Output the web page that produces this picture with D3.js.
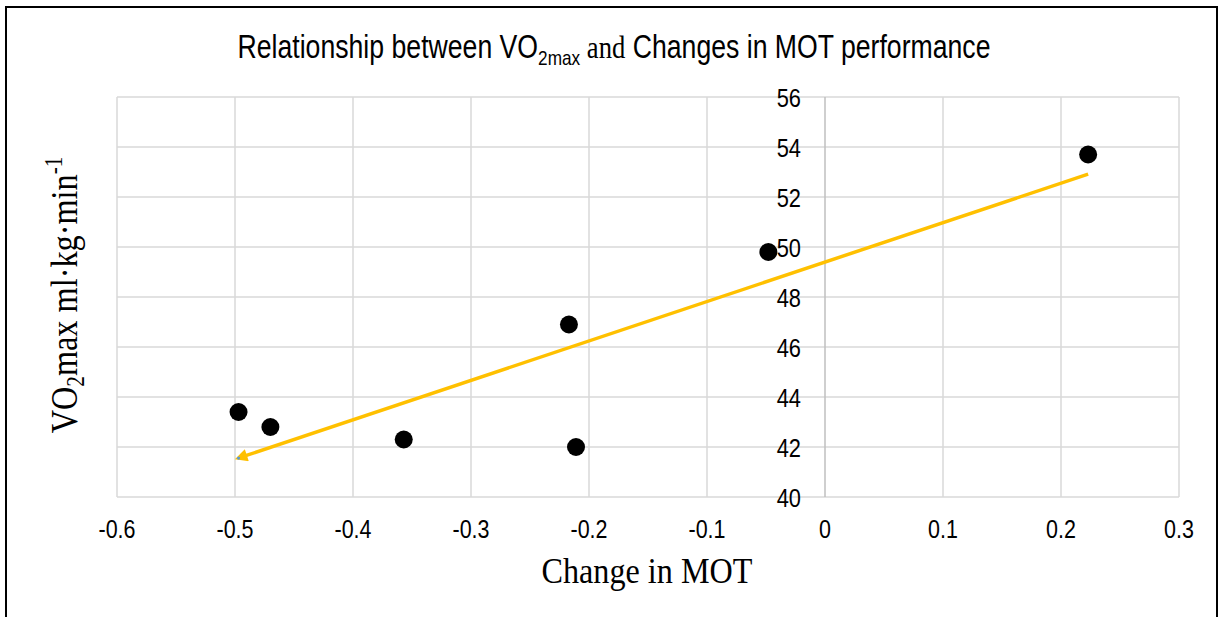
<!DOCTYPE html>
<html>
<head>
<meta charset="utf-8">
<script src="https://cdn.jsdelivr.net/npm/d3@7"></script>
<style>
  body { margin: 0; background: #fff; }
  text { fill: #000; }
</style>
</head>
<body>
<svg></svg>
<script>
var width = 1220,
    height = 617;

// data
var motChange = [-0.497, -0.470, -0.357, -0.217, -0.211, -0.048, 0.223];
var vo2max    = [43.4, 42.8, 42.3, 46.9, 42.0, 49.8, 53.7];
var xTicks = [-0.6, -0.5, -0.4, -0.3, -0.2, -0.1, 0, 0.1, 0.2, 0.3];
var yTicks = [40, 42, 44, 46, 48, 50, 52, 54, 56];

var points = motChange.map(function(d, i) { return {x: d, y: vo2max[i]}; });

var svg = d3.select("svg")
    .attr("width", width)
    .attr("height", height);

var x = d3.scaleLinear().domain([-0.6, 0.3]).range([117, 1179]);
var y = d3.scaleLinear().domain([40, 56]).range([497, 97]);

var sans = "'Liberation Sans', Arial, sans-serif",
    serif = "'Liberation Serif', 'Times New Roman', serif";

// outer frame
svg.append("rect")
  .attr("x", 6).attr("y", 7)
  .attr("width", 1211).attr("height", 620)
  .attr("fill", "none")
  .attr("stroke", "#000")
  .attr("stroke-width", 2);

// gridlines
svg.append("g").selectAll("line")
    .data(yTicks)
  .enter().append("line")
    .attr("x1", x(-0.6)).attr("x2", x(0.3))
    .attr("y1", function(d) { return y(d); })
    .attr("y2", function(d) { return y(d); })
    .attr("stroke", "#d9d9d9")
    .attr("stroke-width", 1.5);

svg.append("g").selectAll("line")
    .data(xTicks.filter(function(d) { return d !== 0; }))
  .enter().append("line")
    .attr("y1", y(40)).attr("y2", y(56))
    .attr("x1", function(d) { return x(d); })
    .attr("x2", function(d) { return x(d); })
    .attr("stroke", "#d9d9d9")
    .attr("stroke-width", 1.5);

// y axis sits at x = 0
svg.append("line")
  .attr("x1", x(0)).attr("x2", x(0))
  .attr("y1", y(40)).attr("y2", y(56))
  .attr("stroke", "#bfbfbf")
  .attr("stroke-width", 1.5);

// tick labels (narrow sans, squeezed horizontally)
svg.append("g").selectAll("text")
    .data(xTicks)
  .enter().append("text")
    .attr("transform", function(d) { return "translate(" + x(d) + ",538) scale(0.86,1)"; })
    .attr("text-anchor", "middle")
    .style("font-family", sans)
    .style("font-size", "25px")
    .text(function(d) { return String(+d.toFixed(1)); });

svg.append("g").selectAll("text")
    .data(yTicks)
  .enter().append("text")
    .attr("transform", function(d) { return "translate(801," + (y(d) + 9.5) + ") scale(0.84,1)"; })
    .attr("text-anchor", "end")
    .style("font-family", sans)
    .style("font-size", "26px")
    .text(function(d) { return d; });

// trendline (least squares) with arrow at its low end
var mx = d3.mean(motChange), my = d3.mean(vo2max);
var sxy = d3.sum(points, function(p) { return (p.x - mx) * (p.y - my); });
var sxx = d3.sum(points, function(p) { return (p.x - mx) * (p.x - mx); });
var slope = sxy / sxx, icpt = my - slope * mx;
var xMin = d3.min(motChange), xMax = d3.max(motChange);

svg.append("defs").append("marker")
    .attr("id", "arrowhead")
    .attr("viewBox", "0 -5 10 10")
    .attr("refX", 1)
    .attr("refY", 0)
    .attr("markerWidth", 4)
    .attr("markerHeight", 3.6)
    .attr("orient", "auto")
  .append("path")
    .attr("d", "M0,-5 L10,0 L0,5")
    .attr("fill", "#ffc000");

svg.append("line")
  .attr("x1", x(xMax)).attr("y1", y(slope * xMax + icpt))
  .attr("x2", x(xMin + 0.006)).attr("y2", y(slope * (xMin + 0.006) + icpt))
  .attr("stroke", "#ffc000")
  .attr("stroke-width", 3.5)
  .attr("marker-end", "url(#arrowhead)");

svg.append("circle")
  .attr("cx", x(xMin)).attr("cy", y(slope * xMin + icpt))
  .attr("r", 1.6)
  .attr("fill", "#5b9bd5");

// data points
svg.append("g").selectAll("circle")
    .data(points)
  .enter().append("circle")
    .attr("cx", function(d) { return x(d.x); })
    .attr("cy", function(d) { return y(d.y); })
    .attr("r", 9)
    .attr("fill", "#000");

// title: sans with a serif "and", like the original
var title = svg.append("text")
  .attr("transform", "translate(614,58) scale(0.82,1)")
  .attr("text-anchor", "middle")
  .style("font-family", sans)
  .style("font-size", "32.5px");
title.append("tspan").text("Relationship between VO");
title.append("tspan").attr("dy", 7).style("font-size", "21px").text("2max");
title.append("tspan").attr("dy", -7).style("font-family", serif).text(" and");
title.append("tspan").text(" Changes in MOT performance");

// axis titles
svg.append("text")
  .attr("transform", "translate(647,583) scale(0.92,1)")
  .attr("text-anchor", "middle")
  .style("font-family", serif)
  .style("font-size", "35px")
  .text("Change in MOT");

var yTitle = svg.append("text")
  .attr("transform", "translate(77,295) rotate(-90) scale(0.85,1)")
  .attr("text-anchor", "middle")
  .style("font-family", serif)
  .style("font-size", "38px");
yTitle.append("tspan").text("VO");
yTitle.append("tspan").attr("dy", 7).style("font-size", "25px").text("2");
yTitle.append("tspan").attr("dy", -7).text("max ml·kg·min");
yTitle.append("tspan").attr("dy", -15).style("font-size", "25px").text("-1");
</script>
</body>
</html>
